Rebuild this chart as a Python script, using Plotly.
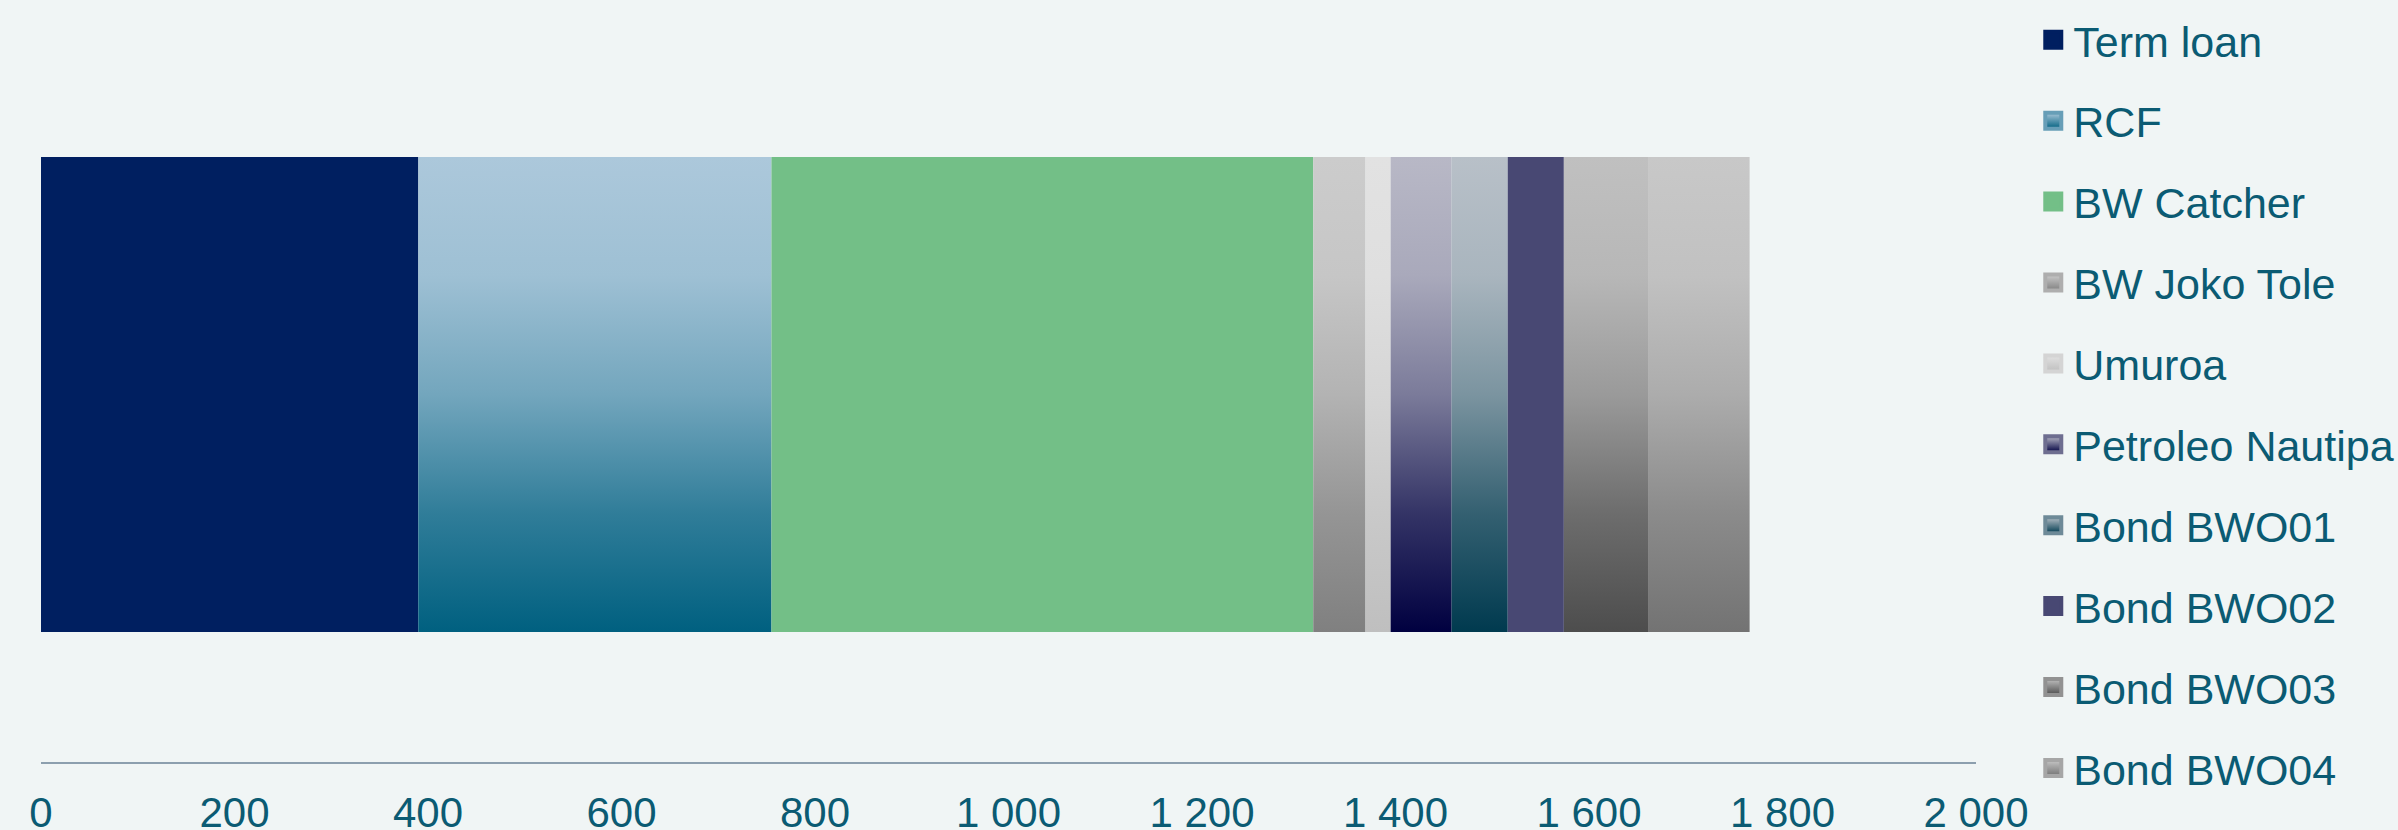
import plotly.graph_objects as go
import numpy as np

categories = ["Term loan", "RCF", "BW Catcher", "BW Joko Tole", "Umuroa",
              "Petroleo Nautipa", "Bond BWO01", "Bond BWO02", "Bond BWO03", "Bond BWO04"]
values = [390, 365, 560, 54, 26, 63, 58, 58, 87, 105]
top_colors = ["#001f60", "#acc8db", "#73bf87", "#cccccc", "#e2e2e2",
              "#b8b8c6", "#b8c0c8", "#484873", "#c0c0c0", "#c8c8c8"]
bottom_colors = ["#001f60", "#006080", "#73bf87", "#808080", "#bfbfbf",
                 "#000040", "#003a4f", "#484873", "#4d4d4d", "#737373"]
tick_vals = [0, 200, 400, 600, 800, 1000, 1200, 1400, 1600, 1800, 2000]

# gradient easing: position from top -> share of bottom colour
ease_pos = [0.0, 0.25, 0.5, 0.75, 1.0]
ease_mix = [0.0, 0.08, 0.33, 0.72, 1.0]

TEXT = "#0b5b73"
BG = "#f0f5f5"


def hex2rgb(h):
    h = h.lstrip("#")
    return np.array([int(h[i:i + 2], 16) for i in (0, 2, 4)], dtype=float)


def mix(top, bottom, w):
    c = hex2rgb(top) * (1 - w) + hex2rgb(bottom) * w
    return "rgb(%d,%d,%d)" % tuple(np.round(c).astype(int))


def scale(top, bottom):
    # colorscale 0 = bottom of bar, 1 = top of bar
    cs = []
    for p, w in zip(ease_pos, ease_mix):
        cs.append([1 - p, mix(top, bottom, w)])
    return sorted(cs, key=lambda s: s[0])


fig = go.Figure()
starts = np.concatenate([[0], np.cumsum(values)[:-1]])
for i, name in enumerate(categories):
    x0 = starts[i]
    x1 = x0 + values[i]
    fig.add_trace(go.Scatter(
        x=[x0, x1, x1, x0, x0], y=[0, 0, 1, 1, 0],
        fill="toself", mode="lines", line=dict(width=0),
        fillgradient=dict(type="vertical", start=0, stop=1,
                          colorscale=scale(top_colors[i], bottom_colors[i])),
        showlegend=False, legendgroup=name, hoverinfo="skip"))
for i, name in enumerate(categories):
    fig.add_trace(go.Scatter(
        x=[None], y=[None], mode="markers", name=name, legendgroup=name,
        marker=dict(symbol="square", size=16, color=top_colors[i],
                    gradient=dict(type="vertical", color=bottom_colors[i]),
                    line=dict(width=4, color=mix(top_colors[i], bottom_colors[i], 0.4)))))

fig.update_layout(
    width=2398, height=830,
    margin=dict(l=41, r=422, t=40, b=68, autoexpand=False),
    paper_bgcolor=BG, plot_bgcolor=BG,
    font=dict(family="Liberation Sans, Arial, sans-serif", size=42, color=TEXT),
    separators=", ",
    showlegend=True,
    legend=dict(x=1.0296, xanchor="left", y=1.048, yanchor="top",
                bgcolor="rgba(0,0,0,0)", tracegroupgap=22, maxheight=900,
                font=dict(size=43, color=TEXT), itemsizing="trace"),
    xaxis=dict(range=[0, 2000], tickvals=tick_vals, separatethousands=True,
               showgrid=False, zeroline=False, showline=True,
               linecolor="#8c9fae", linewidth=2, ticks="",
               ticklabelstandoff=13,
               tickfont=dict(size=42, color=TEXT)),
    yaxis=dict(range=[-0.2737, 1.2463], visible=False, fixedrange=True),
)
fig.write_html("out.html")
